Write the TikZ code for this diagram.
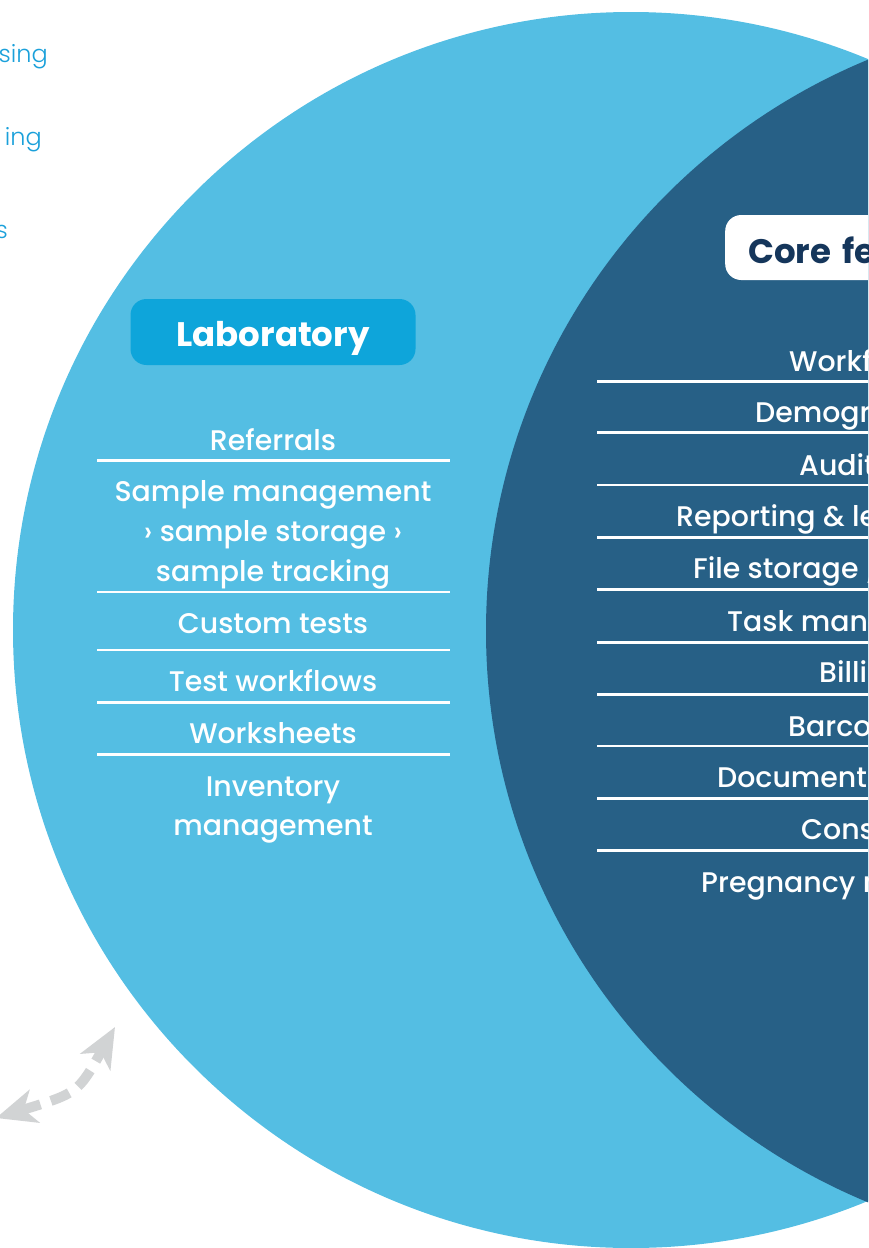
\documentclass[tikz,border=0pt]{standalone}
\usepackage{fontspec}
\setmainfont{Poppins}[UprightFont={* Medium}, BoldFont={* Bold}]
\newfontfamily\lightfont{Poppins}[UprightFont={* Light}]
\usetikzlibrary{arrows.meta}
\definecolor{lightc}{HTML}{54BEE3}
\definecolor{darkc}{HTML}{276086}
\definecolor{labblue}{HTML}{0EA5DA}
\definecolor{navy}{HTML}{15365B}
\definecolor{cuttext}{HTML}{1AA0DA}
\definecolor{arrgray}{HTML}{D1D3D4}
\begin{document}
\begin{tikzpicture}[x=1pt,y=-1pt,
  item/.style={font=\fontsize{28.4}{40}\selectfont, text=white, align=center, anchor=base, inner sep=0pt},
  citem/.style={font=\fontsize{28.4}{40}\selectfont, text=white, anchor=base west, inner sep=0pt},
  sepline/.style={draw=white, line width=2.7pt},
  labbox/.style={fill=labblue, text=white, rounded corners=16pt, minimum width=285pt, minimum height=66pt, inner sep=0pt, text height=28pt, text depth=0pt, font=\fontsize{34}{40}\selectfont\bfseries},
  corebox/.style={fill=white, text=navy, rounded corners=16pt, anchor=west, minimum height=65pt, text width=176pt, align=left, inner xsep=23pt, inner ysep=0pt, text height=31.6pt, text depth=0pt, font=\fontsize{34}{40}\selectfont\bfseries},
  cut/.style={font=\lightfont\fontsize{24}{30}\selectfont, text=cuttext, anchor=base east, inner sep=0pt},
  tipshape/.style={Stealth[length=40pt,width=34pt,inset=11pt]},
  dasharrow/.style={draw=arrgray, line width=10pt, dash pattern=on 20pt off 11pt, {Stealth[length=40pt,width=34pt,inset=11pt]}-{Stealth[length=40pt,width=34pt,inset=11pt]}}
]
\useasboundingbox (0,0) rectangle (868,1248);
\clip (0,0) rectangle (868,1248);
% circles
\fill[lightc] (631,630) circle (618pt);
\fill[darkc] (1104,631) circle (618pt);
% cut-off texts of the left set
\node[cut] (t1) at (48,62) {sing};
\node[cut] (t2) at (42,145) {ing};
\node[cut] (t3) at (8,238) {s};
% Laboratory
\node[labbox] (labhead) at (273,332) {Laboratory};
\node[item] (l1) at (273,450) {Referrals};
\draw[sepline] (97,460.5) -- (450,460.5);
\node[item] (l2a) at (273,501.5) {Sample management};
\node[item] (l2b) at (273,541.5) {› sample storage ›};
\node[item] (l2c) at (273,581.5) {sample tracking};
\draw[sepline] (97,592) -- (450,592);
\node[item] (l3) at (273,633) {Custom tests};
\draw[sepline] (97,650) -- (450,650);
\node[item] (l4) at (273,691.5) {Test workflows};
\draw[sepline] (97,702.5) -- (450,702.5);
\node[item] (l5) at (273,743.5) {Worksheets};
\draw[sepline] (97,754.3) -- (450,754.3);
\node[item] (l6a) at (273,796.5) {Inventory};
\node[item] (l6b) at (273,835) {management};
% Core features
\node[corebox] (corehead) at (725,247.5) {Core fea};
\node[citem] (c1) at (789,371.7) {Workfl};
\draw[sepline] (597,381.7) -- (868,381.7);
\node[citem] (c2) at (755,422.7) {Demogra};
\draw[sepline] (597,432.7) -- (868,432.7);
\node[citem] (c3) at (799,475) {Audit};
\draw[sepline] (597,485) -- (868,485);
\node[citem] (c4) at (676,526) {Reporting \& le};
\draw[sepline] (597,537.7) -- (868,537.7);
\node[citem] (c5) at (693,578) {File storage /};
\draw[sepline] (597,589.3) -- (868,589.3);
\node[citem] (c6) at (727,631.7) {Task manag};
\draw[sepline] (597,642.3) -- (868,642.3);
\node[citem] (c7) at (819,682.7) {Billin};
\draw[sepline] (597,694.3) -- (868,694.3);
\node[citem] (c8) at (788,736) {Barcod};
\draw[sepline] (597,746) -- (868,746);
\node[citem] (c9) at (717,787.7) {Document};
\draw[sepline] (597,798.7) -- (868,798.7);
\node[citem] (c10) at (801,839.3) {Conse};
\draw[sepline] (597,850.7) -- (868,850.7);
\node[citem] (c11) at (701,892.7) {Pregnancy m};
% dashed double arrow
\coordinate (arrA) at (-4,1118);
\coordinate (arrB) at (115,1027);
\draw[dasharrow] (arrA) .. controls (78,1093) .. (arrB);
\end{tikzpicture}
\end{document}
